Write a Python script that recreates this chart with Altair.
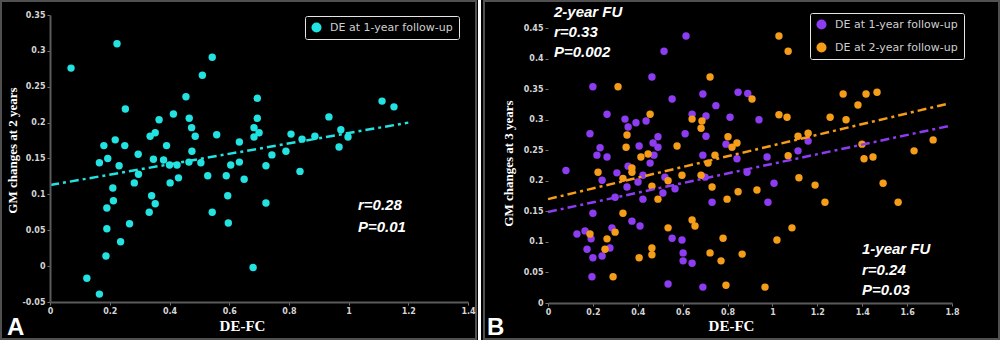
import altair as alt
import pandas as pd

# ---------------- data ----------------
series_1 = "DE at 1-year follow-up"
series_2 = "DE at 2-year follow-up"

# Panel A: DE-FC vs GM changes at 2 years (DE at 1-year follow-up)
a_x = [0.07, 0.224, 0.543, 0.51, 0.455, 0.252, 0.413, 0.365, 0.466, 0.474,
       0.352, 0.335, 0.486, 0.558, 0.218, 0.18, 0.25, 0.39, 0.634, 0.475,
       0.295, 0.193, 0.165, 0.231, 0.346, 0.38, 0.40, 0.425, 0.465, 0.505,
       0.605, 0.634, 0.296, 0.21, 0.282, 0.402, 0.43, 0.528, 0.59, 0.65,
       0.212, 0.34, 0.352, 0.595, 0.19, 0.332, 0.543, 0.266, 0.597, 0.19,
       0.236, 0.187, 0.123, 0.165, 0.68, 0.694, 0.694, 0.683, 0.70, 0.683,
       1.112, 1.152, 0.934, 0.974, 0.998, 0.968, 0.807, 0.844, 0.887, 0.79,
       0.743, 0.723, 0.837, 0.723]
a_y = [0.276, 0.31, 0.291, 0.266, 0.236, 0.219, 0.212, 0.204, 0.206, 0.193,
       0.186, 0.181, 0.181, 0.183, 0.176, 0.168, 0.168, 0.168, 0.173, 0.16,
       0.156, 0.15, 0.144, 0.14, 0.149, 0.148, 0.141, 0.141, 0.145, 0.144,
       0.141, 0.145, 0.128, 0.109, 0.116, 0.116, 0.123, 0.126, 0.126, 0.121,
       0.091, 0.098, 0.087, 0.098, 0.081, 0.075, 0.075, 0.059, 0.06, 0.052,
       0.034, 0.014, -0.017, -0.039, -0.002, 0.234, 0.206, 0.193, 0.186, 0.18,
       0.23, 0.222, 0.208, 0.19, 0.18, 0.166, 0.184, 0.177, 0.181, 0.16,
       0.155, 0.14, 0.132, 0.088]
a_fit_x = [0.0, 1.2]
a_fit_y = [0.113, 0.2]

# Panel B: DE-FC vs GM changes at 3 years
b1_x = [0.615, 0.517, 0.463, 0.2, 0.553, 0.69, 0.748, 0.847, 0.89, 0.263,
        0.343, 0.392, 0.437, 0.357, 0.642, 0.704, 0.811, 0.187, 0.49, 0.611,
        0.704, 0.406, 0.468, 0.49, 0.232, 0.218, 0.263, 0.69, 0.793, 0.842,
        0.472, 0.455, 0.357, 0.08, 0.2, 0.129, 0.165, 0.192, 0.285, 0.174,
        0.2, 0.241, 0.276, 0.374, 0.41, 0.553, 0.597, 0.602, 0.602, 0.642,
        0.196, 0.535, 0.69, 0.731, 0.423, 0.566, 0.512, 0.299, 0.241, 0.352,
        0.401, 0.423, 0.521, 0.70, 0.887, 0.307, 0.94, 1.159, 1.114, 0.976,
        1.007, 0.98]
b1_y = [0.437, 0.412, 0.37, 0.354, 0.334, 0.342, 0.323, 0.345, 0.343, 0.309,
        0.301, 0.295, 0.298, 0.288, 0.309, 0.306, 0.304, 0.277, 0.272, 0.277,
        0.273, 0.257, 0.262, 0.255, 0.254, 0.242, 0.239, 0.242, 0.26, 0.236,
        0.242, 0.229, 0.224, 0.217, 0.147, 0.113, 0.118, 0.105, 0.123, 0.088,
        0.074, 0.077, 0.09, 0.134, 0.126, 0.106, 0.103, 0.082, 0.069, 0.065,
        0.043, 0.031, 0.026, 0.165, 0.17, 0.187, 0.18, 0.173, 0.201, 0.19,
        0.198, 0.209, 0.206, 0.206, 0.214, 0.213, 0.30, 0.265, 0.249, 0.239,
        0.196, 0.165]
b2_x = [0.312, 0.722, 0.455, 0.642, 0.686, 0.682, 0.352, 0.348, 0.575, 0.802,
        0.82, 0.842, 0.414, 0.446, 0.744, 0.713, 0.374, 1.029, 1.07, 0.909,
        1.315, 1.417, 1.466, 1.381, 1.029, 1.065, 1.257, 1.328, 1.114, 1.159,
        1.399, 1.716, 1.631, 1.07, 1.408, 1.448, 0.334, 0.187, 0.299, 0.263,
        0.254, 0.29, 0.406, 0.463, 0.463, 0.535, 0.642, 0.655, 0.78, 0.722,
        0.771, 0.865, 0.793, 0.731, 0.798, 0.847, 0.49, 0.463, 0.334, 0.223,
        0.374, 0.535, 0.597, 0.682, 1.118, 1.19, 1.493, 0.931, 1.234, 1.56,
        1.087, 1.02, 0.967]
b2_y = [0.354, 0.37, 0.309, 0.301, 0.298, 0.286, 0.275, 0.255, 0.257, 0.272,
        0.255, 0.262, 0.239, 0.244, 0.242, 0.229, 0.221, 0.437, 0.412, 0.334,
        0.342, 0.342, 0.345, 0.324, 0.308, 0.304, 0.304, 0.30, 0.273, 0.278,
        0.26, 0.267, 0.249, 0.241, 0.236, 0.239, 0.147, 0.113, 0.116, 0.105,
        0.088, 0.043, 0.074, 0.09, 0.079, 0.123, 0.136, 0.126, 0.106, 0.082,
        0.069, 0.08, 0.029, 0.19, 0.17, 0.182, 0.17, 0.191, 0.204, 0.214,
        0.214, 0.20, 0.209, 0.209, 0.205, 0.193, 0.196, 0.185, 0.165, 0.165,
        0.123, 0.103, 0.026]
b1_fit_x = [0.0, 1.79]
b1_fit_y = [0.149, 0.29]
b2_fit_x = [0.0, 1.79]
b2_fit_y = [0.170, 0.327]

a_xticks = [0, 0.2, 0.4, 0.6, 0.8, 1, 1.2, 1.4]
a_yticks = [-0.05, 0, 0.05, 0.1, 0.15, 0.2, 0.25, 0.3, 0.35]
b_xticks = [0, 0.2, 0.4, 0.6, 0.8, 1, 1.2, 1.4, 1.6, 1.8]
b_yticks = [0, 0.05, 0.1, 0.15, 0.2, 0.25, 0.3, 0.35, 0.4, 0.45]

a_notes = ["r=0.28", "P=0.01"]
b_notes_top = ["2-year FU", "r=0.33", "P=0.002"]
b_notes_bottom = ["1-year FU", "r=0.24", "P=0.03"]
panel_letters = ["A", "B"]
x_title = "DE-FC"
a_y_title = "GM changes at 2 years"
b_y_title = "GM changes at 3 years"

CYAN = "#22e2e2"
PURPLE = "#8d3cf2"
ORANGE = "#f59c18"

# ---------------- helpers ----------------
one = pd.DataFrame({"k": [0]})

AXIS_STYLE = dict(
    labelFont="DejaVu Sans", labelFontSize=8, labelFontWeight="bold",
    labelColor="#d6d6d6", labelPadding=2, tickColor="#777", tickSize=3,
    labelOverlap=False, labelFlush=False, tickCount=40, labelBound=False,
    domainColor="#5a5a5a", domainWidth=2, grid=False, zindex=1,
    titleFont="Liberation Serif", titleFontWeight="bold", titleColor="white",
    titleAlign="center", titleBaseline="middle",
    labelExpr="abs(datum.value) < 1e-9 ? '0' : datum.value + ''",
)


def legend(x, y, row_pad=0):
    return alt.Legend(
        orient="none", legendX=x, legendY=y, title=None,
        fillColor="black", strokeColor="#e6e6e6", cornerRadius=2, padding=6,
        symbolType="circle", symbolSize=100, symbolStrokeWidth=0, symbolOpacity=1,
        labelFont="DejaVu Sans", labelFontSize=11, labelColor="#cfcfcf",
        labelOffset=8, rowPadding=row_pad, labelLimit=300,
    )


def frame(x1, x2, y1, y2):
    return alt.Chart(one).mark_rect(fill="black", stroke="#505050", strokeWidth=2).encode(
        x=alt.value(x1), x2=alt.value(x2), y=alt.value(y1), y2=alt.value(y2))


def note(txt, x, y, size=15, style="italic", font="Liberation Sans"):
    return alt.Chart(one).mark_text(
        align="left", baseline="middle", font=font, fontSize=size,
        fontStyle=style, fontWeight="bold", color="white").encode(
        x=alt.value(x), y=alt.value(y), text=alt.value(txt))


def letter(txt, x, y):
    return alt.Chart(one).mark_text(
        align="left", baseline="alphabetic", font="Liberation Sans", fontSize=24,
        fontWeight="bold", color="white").encode(
        x=alt.value(x), y=alt.value(y), text=alt.value(txt))


# ---------------- panel A ----------------
dfA = pd.DataFrame({"x": a_x, "y": a_y, "series": series_1})
fitA = pd.DataFrame({"x": a_fit_x, "y": a_fit_y})

xA = alt.X("x:Q", scale=alt.Scale(domain=[-0.0005, 1.4], nice=False, zero=False),
           axis=alt.Axis(values=a_xticks, title=x_title, titleFontSize=15,
                         titleX=192, titleY=23, **AXIS_STYLE))
yA = alt.Y("y:Q", scale=alt.Scale(domain=[-0.05, 0.35], nice=False, zero=False),
           axis=alt.Axis(values=a_yticks, title=a_y_title, titleFontSize=13,
                         titleX=-38, titleY=135, titleAngle=270, **AXIS_STYLE))

ptsA = alt.Chart(dfA).mark_circle(size=55, opacity=1).encode(
    x=xA, y=yA,
    color=alt.Color("series:N", scale=alt.Scale(domain=[series_1], range=[CYAN]),
                    legend=legend(255, 1)))
lineA = alt.Chart(fitA).mark_line(color=CYAN, strokeWidth=2.5, strokeDash=[9, 4, 3, 4]).encode(
    x=xA, y=yA)
barA = alt.Chart(one).mark_rect(fill="white").encode(
    x=alt.value(428), x2=alt.value(431), y=alt.value(-15), y2=alt.value(325))

panelA = alt.layer(
    frame(-49, 426, -14, 324), barA, ptsA, lineA,
    note(a_notes[0], 308, 190), note(a_notes[1], 308, 212),
    letter(panel_letters[0], -43, 320),
).properties(width=418, height=287)

# ---------------- panel B ----------------
dfB = pd.concat([
    pd.DataFrame({"x": b1_x, "y": b1_y, "series": series_1}),
    pd.DataFrame({"x": b2_x, "y": b2_y, "series": series_2}),
])
fitB1 = pd.DataFrame({"x": b1_fit_x, "y": b1_fit_y})
fitB2 = pd.DataFrame({"x": b2_fit_x, "y": b2_fit_y})

xB = alt.X("x:Q", scale=alt.Scale(domain=[0, 1.8], nice=False, zero=False),
           axis=alt.Axis(values=b_xticks, title=x_title, titleFontSize=15,
                         titleX=183, titleY=22, **AXIS_STYLE))
yB = alt.Y("y:Q", scale=alt.Scale(domain=[0, 0.4714], nice=False, zero=False),
           axis=alt.Axis(values=b_yticks, title=b_y_title, titleFontSize=13,
                         titleX=-40, titleY=148, titleAngle=270, domain=False,
                         **AXIS_STYLE))

ptsB = alt.Chart(dfB).mark_circle(size=55, opacity=1).encode(
    x=xB, y=yB,
    color=alt.Color("series:N",
                    scale=alt.Scale(domain=[series_1, series_2], range=[PURPLE, ORANGE]),
                    legend=legend(262, -2, row_pad=11)))
lineB1 = alt.Chart(fitB1).mark_line(color=PURPLE, strokeWidth=2.5, strokeDash=[9, 4, 3, 4]).encode(
    x=xB, y=yB)
lineB2 = alt.Chart(fitB2).mark_line(color=ORANGE, strokeWidth=2.5, strokeDash=[9, 4, 3, 4]).encode(
    x=xB, y=yB)

panelB = alt.layer(
    frame(-64, 451, -14, 324), ptsB, lineB2, lineB1,
    note(b_notes_top[0], 6, -3), note(b_notes_top[1], 6, 17), note(b_notes_top[2], 6, 37),
    note(b_notes_bottom[0], 314, 234), note(b_notes_bottom[1], 314, 255),
    note(b_notes_bottom[2], 314, 275),
    letter(panel_letters[1], -61, 320),
).properties(width=404, height=288)

chart = alt.hconcat(panelA, panelB, spacing=2).resolve_scale(
    color="independent", x="independent", y="independent"
).configure(background="black", padding=0).configure_view(strokeWidth=0)

chart.save("out.html", embed_options={"renderer": "svg", "actions": False})
